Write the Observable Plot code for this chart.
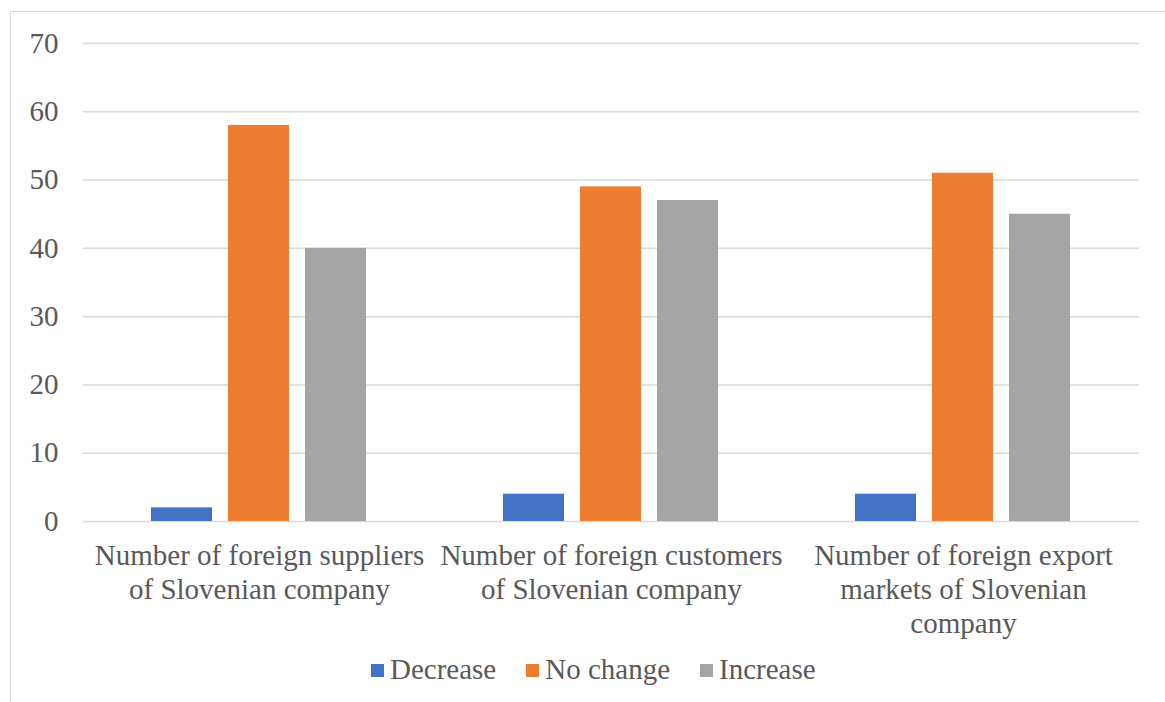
<!DOCTYPE html>
<html>
<head>
<meta charset="utf-8">
<script src="https://cdn.jsdelivr.net/npm/d3@7"></script>
<script src="https://cdn.jsdelivr.net/npm/@observablehq/plot@0.6"></script>
<style>
  html, body { margin: 0; padding: 0; background: #fff; }
  body { width: 1165px; height: 702px; position: relative; overflow: hidden; font-family: 'Liberation Serif', 'DejaVu Serif', serif; }
  #frame { position: absolute; left: 10px; top: 11px; width: 1160px; height: 700px; border-top: 1.5px solid #d9d9d9; border-left: 1.5px solid #d9d9d9; box-sizing: border-box; }
  #chart { position: absolute; left: 0; top: 0; }
  #chart svg, #chart svg text { font-family: 'Liberation Serif', 'DejaVu Serif', serif !important; }
  #legend { position: absolute; top: 654px; left: 371px; display: flex; align-items: center; font-size: 29px; color: #595959; line-height: 30px; }
  .item { display: flex; align-items: center; margin-right: 30px; }
  .sw { width: 13px; height: 13px; margin-right: 6px; margin-top: 2px; }
</style>
</head>
<body>
<div id="frame"></div>
<div id="chart"></div>
<div id="legend"></div>
<script>
const categories = [
  "Number of foreign suppliers\nof Slovenian company",
  "Number of foreign customers\nof Slovenian company",
  "Number of foreign export\nmarkets of Slovenian\ncompany"
];
const series = ["Decrease", "No change", "Increase"];
const colors = ["#4472C4", "#ED7D31", "#A5A5A5"];
const decrease = [2, 4, 4];
const noChange = [58, 49, 51];
const increase = [40, 47, 45];
const yTicks = [0, 10, 20, 30, 40, 50, 60, 70];

const seriesValues = [decrease, noChange, increase];
const data = [];
categories.forEach((c, i) => {
  series.forEach((s, j) => data.push({category: c, status: s, value: seriesValues[j][i]}));
});

const chart = Plot.plot({
  width: 1165,
  height: 650,
  marginLeft: 82,
  marginRight: 25,
  marginTop: 43,
  marginBottom: 129,
  style: {fontFamily: "'Liberation Serif', 'DejaVu Serif', serif", fontSize: "29px", color: "#595959", background: "transparent"},
  fx: {domain: categories, padding: 0, label: null},
  x: {domain: series, paddingInner: 0.205, paddingOuter: 0.863, axis: null},
  y: {domain: [0, 70], label: null},
  color: {domain: series, range: colors},
  marks: [
    Plot.gridY(yTicks, {stroke: "#d9d9d9", strokeOpacity: 1, strokeWidth: 1.5}),
    Plot.axisY(yTicks, {tickSize: 0, tickPadding: 25, label: null, fill: "#595959"}),
    Plot.axisFx({anchor: "bottom", tickSize: 0, tickPadding: 19, label: null, lineHeight: 1.18, fill: "#595959"}),
    Plot.barY(data, {fx: "category", x: "status", y: "value", fill: "status"})
  ]
});
document.getElementById("chart").appendChild(chart);

const legend = document.getElementById("legend");
series.forEach((s, i) => {
  const it = document.createElement("div");
  it.className = "item";
  const sw = document.createElement("div");
  sw.className = "sw";
  sw.style.background = colors[i];
  const t = document.createElement("span");
  t.textContent = s;
  it.appendChild(sw);
  it.appendChild(t);
  legend.appendChild(it);
});
</script>
</body>
</html>
